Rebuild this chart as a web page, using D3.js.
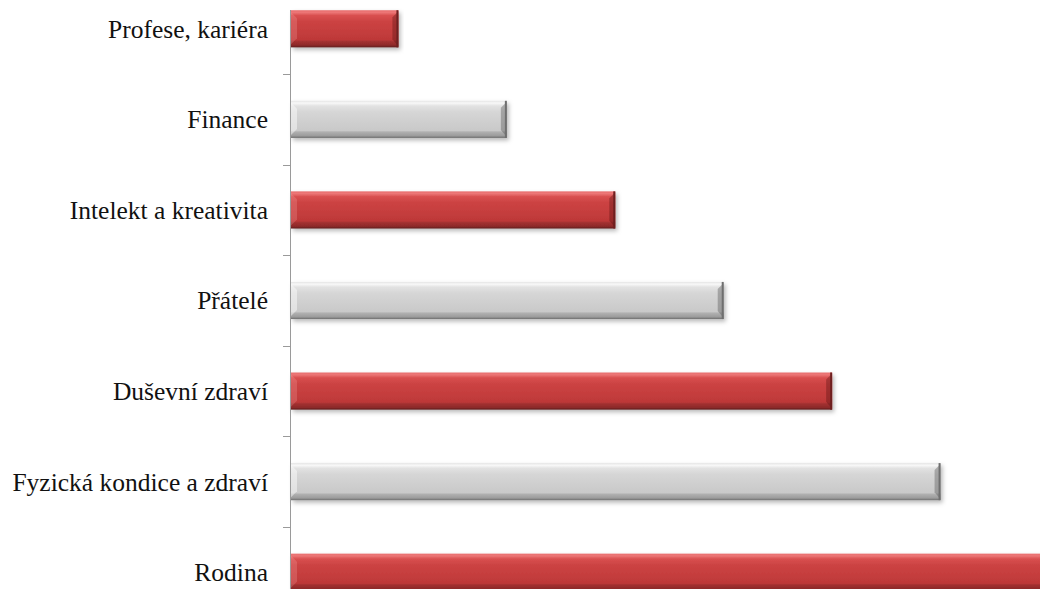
<!DOCTYPE html>
<html>
<head>
<meta charset="utf-8">
<script src="https://cdn.jsdelivr.net/npm/d3@7"></script>
<style>
  body { margin: 0; background: #fff; }
  svg { display: block; }
  .lbl { font-family: "Liberation Serif", "Times New Roman", "DejaVu Serif", serif; font-size: 25.5px; fill: #111; }
</style>
</head>
<body>
<svg id="chart" width="1040" height="589"></svg>
<script>
// data, top to bottom
var categories = ["Profese, kariéra", "Finance", "Intelekt a kreativita", "Přátelé",
                  "Duševní zdraví", "Fyzická kondice a zdraví", "Rodina"];
var values = [1, 2, 3, 4, 5, 6, 7];
var barColors = ["red", "gray", "red", "gray", "red", "gray", "red"];

var svg = d3.select("#chart");
var W = 1040, H = 589;
var x0 = 290;

var x = d3.scaleLinear().domain([0, 7]).range([x0, 1049]);
var y = d3.scaleBand().domain(categories).range([-16.5, 617.5])
          .paddingInner(0.59).paddingOuter(0.295);

var defs = svg.append("defs");

function grad(id, stops) {
  var g = defs.append("linearGradient").attr("id", id)
    .attr("x1", 0).attr("y1", 0).attr("x2", 0).attr("y2", 1);
  stops.forEach(function(s) {
    g.append("stop").attr("offset", s[0]).attr("stop-color", s[1]);
  });
}
grad("g-red", [[0, "#e86f6f"], [0.06, "#ec7676"], [0.14, "#d95050"], [0.3, "#cc4343"], [0.6, "#c43d3d"],
               [0.8, "#bd3838"], [0.84, "#a33030"], [0.94, "#8e2a2a"], [1, "#5e1a1a"]]);
grad("g-gray", [[0, "#e4e4e4"], [0.06, "#f8f8f8"], [0.14, "#e2e2e2"], [0.3, "#d6d6d6"], [0.6, "#cecece"],
                [0.8, "#c9c9c9"], [0.84, "#b0b0b0"], [0.94, "#9c9c9c"], [1, "#6e6e6e"]]);

var f = defs.append("filter").attr("id", "shadow")
  .attr("x", "-5%").attr("y", "-30%").attr("width", "110%").attr("height", "170%");
f.append("feDropShadow").attr("dx", 2).attr("dy", 2.5).attr("stdDeviation", 2)
  .attr("flood-color", "#000").attr("flood-opacity", 0.28);

var edge = {
  red: { left: "rgba(255,180,180,0.22)", right: "rgba(80,15,15,0.35)" },
  gray: { left: "rgba(255,255,255,0.45)", right: "rgba(70,70,70,0.35)" }
};

var bars = svg.append("g").selectAll("g.bar")
  .data(categories.map(function(c, i) { return { cat: c, v: values[i], col: barColors[i] }; }))
  .enter().append("g").attr("class", "bar");

bars.append("rect")
  .attr("x", x0 + 1)
  .attr("y", function(d) { return y(d.cat); })
  .attr("width", function(d) { return x(d.v) - x0 - 1; })
  .attr("height", y.bandwidth())
  .attr("fill", function(d) { return "url(#g-" + d.col + ")"; })
  .attr("filter", "url(#shadow)");

// bevel edges
var b = 6;
bars.append("polygon")
  .attr("fill", function(d) { return edge[d.col].left; })
  .attr("points", function(d) {
    var t = y(d.cat), h = y.bandwidth(), l = x0 + 1;
    return [[l, t + 2], [l + b, t + b + 2], [l + b, t + h - b - 3], [l, t + h - 3]].join(" ");
  });
bars.append("polygon")
  .attr("fill", function(d) { return edge[d.col].right; })
  .attr("points", function(d) {
    var t = y(d.cat), h = y.bandwidth(), r = x(d.v);
    return [[r, t + 1], [r - b, t + b + 1], [r - b, t + h - b - 2], [r, t + h - 1]].join(" ");
  });
bars.append("line")
  .attr("x1", function(d) { return x(d.v) - 1; })
  .attr("x2", function(d) { return x(d.v) - 1; })
  .attr("y1", function(d) { return y(d.cat); })
  .attr("y2", function(d) { return y(d.cat) + y.bandwidth(); })
  .attr("stroke", function(d) { return d.col === "red" ? "#6e2020" : "#6f6f6f"; })
  .attr("stroke-width", 2);

// axis line and ticks between categories
var ax = svg.append("g");
ax.append("line").attr("x1", x0 + 0.5).attr("x2", x0 + 0.5).attr("y1", 10).attr("y2", H)
  .attr("stroke", "#9a9a9a");
var step = y.step();
ax.selectAll("line.tk").data(categories.slice(1)).enter().append("line").attr("class", "tk")
  .attr("x1", x0 - 7).attr("x2", x0 + 0.5)
  .attr("y1", function(d) { return Math.round(y(d) - step * 0.295) + 0.5; })
  .attr("y2", function(d) { return Math.round(y(d) - step * 0.295) + 0.5; })
  .attr("stroke", "#9a9a9a");

// category labels
svg.append("g").selectAll("text").data(categories).enter().append("text")
  .attr("class", "lbl")
  .attr("x", 268)
  .attr("y", function(d) { return y(d) + y.bandwidth() / 2; })
  .attr("dy", "0.35em")
  .attr("text-anchor", "end")
  .text(function(d) { return d; });
</script>
</body>
</html>
